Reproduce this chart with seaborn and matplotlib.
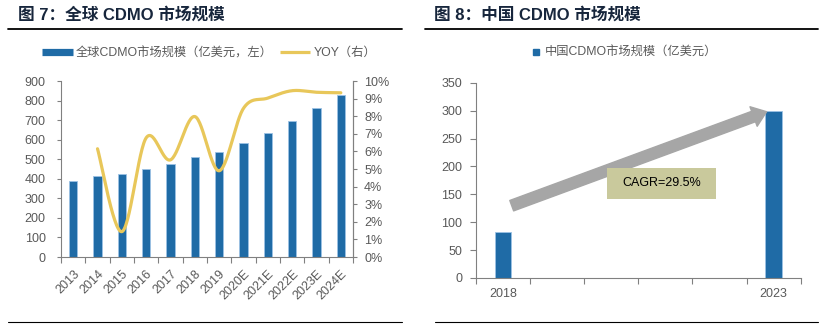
import numpy as np
import pandas as pd
import matplotlib
matplotlib.use("Agg")
import matplotlib.pyplot as plt
from matplotlib.lines import Line2D
from matplotlib.patches import Rectangle
from matplotlib.ticker import FixedLocator, PercentFormatter
import seaborn as sns

# ---------------- data ----------------
global_years = ["2013", "2014", "2015", "2016", "2017", "2018", "2019",
                "2020E", "2021E", "2022E", "2023E", "2024E"]
global_size = [390, 414, 423, 448, 474, 511, 535, 581, 634, 694, 760, 828]
global_yoy = [np.nan, 0.0615, 0.0144, 0.0677, 0.0552, 0.0798, 0.0490,
              0.0845, 0.0903, 0.0945, 0.0936, 0.0933]

china_years = ["2018", "2019", "2020", "2021", "2022", "2023"]
china_size = [82, np.nan, np.nan, np.nan, np.nan, 300]
china_ticklabels = ["2018", "", "", "", "", "2023"]
cagr_text = "CAGR=29.5%"

title_left = "图 7：全球 CDMO 市场规模"
title_right = "图 8：中国 CDMO 市场规模"
legend_bar_left = "全球CDMO市场规模（亿美元，左）"
legend_line_left = "YOY（右）"
legend_bar_right = "中国CDMO市场规模（亿美元）"

# ---------------- style ----------------
sns.set_theme(style="white")
FAM = ["Liberation Sans", "Noto Sans CJK SC", "DejaVu Sans"]
plt.rcParams["font.family"] = FAM
BAR = "#1F6BA6"
BAR_EDGE = "#9CC2E4"
LINE = "#E8C75A"
TXT = "#595959"
SPINE = "#808080"
TITLE_C = "#17263C"
FS = 9

W, H = 829, 328
fig = plt.figure(figsize=(W / 100, H / 100), dpi=100)


def fx(px):
    return px / W


def fy(py):
    return 1 - py / H


# titles and rule lines
fig.text(fx(18), fy(15), title_left, fontsize=12, fontweight="bold",
         color=TITLE_C, va="center", ha="left", family=FAM)
fig.text(fx(434), fy(15), title_right, fontsize=12, fontweight="bold",
         color=TITLE_C, va="center", ha="left", family=FAM)
for (x0, x1, y, lw) in [(8, 402, 28.7, 1.3), (425, 818, 28.7, 1.3),
                        (8, 402, 322, 0.8), (435, 818, 322, 0.8)]:
    fig.add_artist(Line2D([fx(x0), fx(x1)], [fy(y), fy(y)], color="black",
                          lw=lw, transform=fig.transFigure))

# ---------------- left chart ----------------
axL = fig.add_axes([fx(61), fy(257), fx(353) - fx(61), fy(81) - fy(257)])
dfL = pd.DataFrame({"year": global_years, "size": global_size, "yoy": global_yoy})
sns.barplot(data=dfL, x="year", y="size", ax=axL, color=BAR, width=0.33,
            edgecolor=BAR_EDGE, linewidth=0.6, saturation=1)
axL.set_xlim(-0.5, len(global_years) - 0.5)
axL.set_ylim(0, 900)
axL.set_yticks(np.arange(0, 901, 100))
axL.set_xlabel("")
axL.set_ylabel("")
axL.xaxis.set_minor_locator(FixedLocator(np.arange(-0.5, len(global_years), 1.0)))
axL.tick_params(axis="x", which="major", length=0, pad=8, labelsize=FS,
                labelcolor=TXT)
axL.tick_params(axis="x", which="minor", length=4, width=0.8, color=SPINE,
                direction="out", bottom=True)
axL.tick_params(axis="y", length=3, width=0.8, color=SPINE, direction="out",
                left=True, pad=8, labelsize=FS, labelcolor=TXT)
for lab in axL.get_xticklabels():
    lab.set_rotation(45)
    lab.set_ha("right")
    lab.set_va("top")
    lab.set_rotation_mode("anchor")
axL.spines["top"].set_visible(False)
for s in ["left", "bottom", "right"]:
    axL.spines[s].set_color(SPINE)
    axL.spines[s].set_linewidth(0.8)

axR2 = axL.twinx()
# smoothed line through the data points (Excel-style Catmull-Rom Bezier)
valid = [i for i, v in enumerate(global_yoy) if not np.isnan(v)]
px = np.array(valid, dtype=float)
py = np.array([global_yoy[i] for i in valid])
xs, ys = [], []
n = len(px)
for i in range(n - 1):
    p0 = (px[max(i - 1, 0)], py[max(i - 1, 0)])
    p1 = (px[i], py[i])
    p2 = (px[i + 1], py[i + 1])
    p3 = (px[min(i + 2, n - 1)], py[min(i + 2, n - 1)])
    c1 = (p1[0] + (p2[0] - p0[0]) / 6, p1[1] + (p2[1] - p0[1]) / 6)
    c2 = (p2[0] - (p3[0] - p1[0]) / 6, p2[1] - (p3[1] - p1[1]) / 6)
    t = np.linspace(0, 1, 30, endpoint=(i == n - 2))
    bx = ((1 - t) ** 3 * p1[0] + 3 * (1 - t) ** 2 * t * c1[0]
          + 3 * (1 - t) * t ** 2 * c2[0] + t ** 3 * p2[0])
    by = ((1 - t) ** 3 * p1[1] + 3 * (1 - t) ** 2 * t * c1[1]
          + 3 * (1 - t) * t ** 2 * c2[1] + t ** 3 * p2[1])
    xs.extend(bx)
    ys.extend(by)
sns.lineplot(x=xs, y=ys, ax=axR2, color=LINE, linewidth=2.3, sort=False,
             estimator=None)
axR2.set_ylim(0, 0.10)
axR2.set_yticks(np.arange(0, 0.101, 0.01))
axR2.yaxis.set_major_formatter(PercentFormatter(1.0, decimals=0))
axR2.tick_params(axis="y", length=3, width=0.8, color=SPINE, direction="out",
                 right=True, pad=5, labelsize=FS, labelcolor=TXT)
for s in ["top", "left", "bottom"]:
    axR2.spines[s].set_visible(False)
axR2.spines["right"].set_color(SPINE)
axR2.spines["right"].set_linewidth(0.8)
axR2.set_xlim(-0.5, len(global_years) - 0.5)

h1 = Line2D([0], [0], color=BAR, lw=5.2, solid_capstyle="butt")
h2 = Line2D([0], [0], color=LINE, lw=2.3, solid_capstyle="butt")
fig.legend([h1, h2], [legend_bar_left, legend_line_left], loc="center",
           bbox_to_anchor=(fx(209), fy(53)), ncol=2, frameon=False,
           labelcolor=TXT, handlelength=2.5, handletextpad=0.25,
           columnspacing=0.6, prop={"family": FAM, "size": 8.8})

# ---------------- right chart ----------------
axC = fig.add_axes([fx(476), fy(278), fx(800.7) - fx(476), fy(82.7) - fy(278)])
dfC = pd.DataFrame({"year": china_years, "size": china_size})
sns.barplot(data=dfC, x="year", y="size", ax=axC, order=china_years,
            color=BAR, width=0.31, edgecolor=BAR_EDGE, linewidth=0.6,
            saturation=1)
axC.set_xlim(-0.5, len(china_years) - 0.5)
axC.set_ylim(0, 350)
axC.set_yticks(np.arange(0, 351, 50))
axC.set_xticks(range(len(china_years)))
axC.set_xticklabels(china_ticklabels)
axC.set_xlabel("")
axC.set_ylabel("")
axC.xaxis.set_minor_locator(FixedLocator(np.arange(-0.5, len(china_years), 1.0)))
axC.tick_params(axis="x", which="major", length=0, pad=7, labelsize=FS,
                labelcolor=TXT)
axC.tick_params(axis="x", which="minor", length=4, width=0.8, color=SPINE,
                direction="out", bottom=True)
axC.tick_params(axis="y", length=4, width=0.8, color=SPINE, direction="out",
                left=True, pad=6, labelsize=FS, labelcolor=TXT)
for s in ["top", "right"]:
    axC.spines[s].set_visible(False)
for s in ["left", "bottom"]:
    axC.spines[s].set_color(SPINE)
    axC.spines[s].set_linewidth(0.8)

axC.annotate("", xy=(4.87, 298), xytext=(0.16, 129.6),
             arrowprops=dict(arrowstyle="simple,head_width=1.5,head_length=1.0,tail_width=0.8",
                             color="#A6A6A6", shrinkA=0, shrinkB=0,
                             mutation_scale=10))
box = Rectangle((fx(607), fy(199)), fx(716) - fx(607), fy(167.7) - fy(199),
                transform=fig.transFigure, facecolor="#C9C99C", edgecolor="none",
                zorder=3)
fig.add_artist(box)
fig.text(fx(661.5), fy(183.5), cagr_text, ha="center", va="center",
         fontsize=9, color="black", family=FAM, zorder=4)

h3 = Line2D([0], [0], color=BAR, marker="s", markersize=4.5, linestyle="none")
fig.legend([h3], [legend_bar_right], loc="center",
           bbox_to_anchor=(fx(625), fy(53)), frameon=False,
           labelcolor=TXT, handlelength=0.6, handletextpad=0.4,
           prop={"family": FAM, "size": 8.8})

fig.savefig("out.png", dpi=100)
